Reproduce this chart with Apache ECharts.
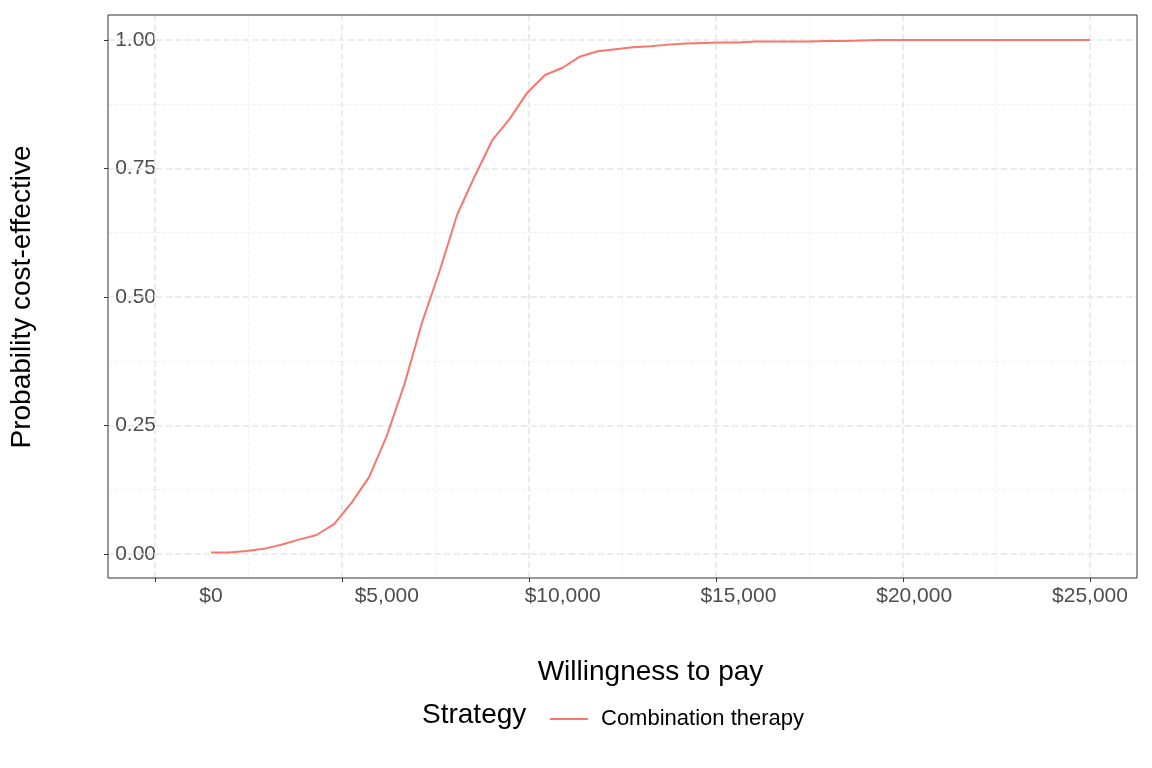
<!DOCTYPE html>
<html><head><meta charset="utf-8">
<script src="https://cdn.jsdelivr.net/npm/echarts@6/dist/echarts.min.js"></script>
<style>html,body{margin:0;background:#fff}#chart{width:1152px;height:768px}</style>
</head><body><div id="chart"></div>
<script>
const wtp = [0,500,1000,1500,2000,2500,3000,3500,4000,4500,5000,5500,6000,6500,7000,7500,8000,8500,9000,9500,10000,10500,11000,11500,12000,12500,13000,13500,14000,14500,15000,15500,16000,16500,17000,17500,18000,18500,19000,19500,20000,20500,21000,21500,22000,22500,23000,23500,24000,24500,25000]
const probCombination = [0.003,0.003,0.006,0.010,0.018,0.028,0.037,0.058,0.100,0.150,0.230,0.330,0.450,0.550,0.660,0.735,0.805,0.847,0.898,0.932,0.946,0.968,0.978,0.982,0.986,0.988,0.991,0.993,0.994,0.995,0.995,0.997,0.997,0.997,0.997,0.998,0.998,0.999,1,1,1,1,1,1,1,1,1,1,1,1,1]
const xMajor = [0,5000,10000,15000,20000,25000]
const xMinor = [2500,7500,12500,17500,22500]
const yMajor = [0,0.25,0.5,0.75,1]
const yMinor = [0.125,0.375,0.625,0.875]

// panel limits (data units) and a little room outside for tick marks
const xLo = -1257, xHi = 26257, yLo = -0.0467, yHi = 1.0486
const xTick = -1364, yTick = -0.0545
const font = "Liberation Sans, Arial, sans-serif"

const seg = (a, b, c, w) => [{coord:a, lineStyle:{color:c,width:w}}, {coord:b}]
const gridLines = [
  ...xMinor.map(v => seg([v,yLo],[v,yHi],"#f2f2f2",1)),
  ...yMinor.map(v => seg([xLo,v],[xHi,v],"#f2f2f2",1)),
  ...xMajor.map(v => seg([v,yLo],[v,yHi],"#e6e6e6",1.6)),
  ...yMajor.map(v => seg([xLo,v],[xHi,v],"#e6e6e6",1.6)),
  ...xMajor.map(v => seg([v,yTick],[v,yLo],"#333",1)),
  ...yMajor.map(v => seg([xTick,v],[xLo,v],"#333",1)),
]

const chart = echarts.init(document.getElementById("chart"))
chart.setOption({
  animation: false,
  textStyle: { fontFamily: font },
  grid: [
    { left: 155, right: 62, top: 40, bottom: 214 },
    { left: 104, right: 15, top: 15, bottom: 186 },
  ],
  xAxis: [{
    type: "value", min: 0, max: 25000, interval: 5000, offset: 24,
    axisLine: { show: false }, axisTick: { show: false },
    axisLabel: { color: "#4d4d4d", fontSize: 21, margin: 8,
      formatter: v => "$" + v.toLocaleString("en-US") },
    splitLine: { show: false },
    name: "Willingness to pay", nameLocation: "middle", nameGap: 80,
    nameTextStyle: { color: "#000", fontSize: 28 },
  }, {
    gridIndex: 1, type: "value", min: xTick, max: xHi, show: false,
  }],
  yAxis: [{
    type: "value", min: 0, max: 1, interval: 0.25, offset: 47,
    axisLine: { show: false }, axisTick: { show: false },
    axisLabel: { color: "#4d4d4d", fontSize: 21, margin: 8, formatter: v => v.toFixed(2) },
    splitLine: { show: false },
    name: "Probability cost-effective", nameLocation: "middle", nameGap: 128,
    nameTextStyle: { color: "#000", fontSize: 28 },
  }, {
    gridIndex: 1, type: "value", min: yTick, max: yHi, show: false,
  }],
  legend: {
    left: 545, top: 703, itemWidth: 38, itemHeight: 2, icon: "rect", itemGap: 10,
    textStyle: { color: "#000", fontSize: 22, padding: [0, 0, 0, 8] },
    data: ["Combination therapy"],
  },
  graphic: [
    { type: "rect", shape: { x: 108, y: 15, width: 1029, height: 563 }, z: 10,
      style: { fill: "none", stroke: "#333", lineWidth: 1 } },
    { type: "text", left: 422, top: 701, style: { text: "Strategy", fontSize: 28, fill: "#000", fontFamily: font } },
  ],
  series: [{
    name: "grid", type: "line", xAxisIndex: 1, yAxisIndex: 1, data: [], z: 1,
    markLine: { silent: true, symbol: "none", label: { show: false }, animation: false, data: gridLines },
  }, {
    name: "Combination therapy", type: "line", data: wtp.map((x, i) => [x, probCombination[i]]),
    showSymbol: false, z: 5, clip: false,
    lineStyle: { color: "#F8766D", width: 2 }, itemStyle: { color: "#F8766D" },
  }],
})
</script></body></html>
